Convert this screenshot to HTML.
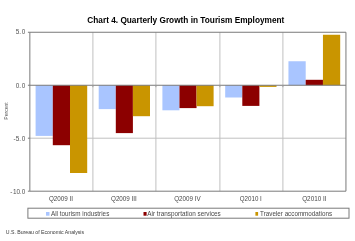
<!DOCTYPE html>
<html><head><meta charset="utf-8"><style>html,body{margin:0;padding:0;background:#fff;width:355px;height:241px;overflow:hidden}</style></head>
<body><svg width="355" height="241" viewBox="0 0 355 241" style="display:block;filter:blur(0.3px)"><rect x="0" y="0" width="355" height="241" fill="#fff"/><line x1="92.9" y1="32.25" x2="92.9" y2="191.2" stroke="#c0c0c0" stroke-width="1"/><line x1="155.9" y1="32.25" x2="155.9" y2="191.2" stroke="#c0c0c0" stroke-width="1"/><line x1="219.9" y1="32.25" x2="219.9" y2="191.2" stroke="#c0c0c0" stroke-width="1"/><line x1="282.9" y1="32.25" x2="282.9" y2="191.2" stroke="#c0c0c0" stroke-width="1"/><line x1="29.85" y1="138.2" x2="345.95" y2="138.2" stroke="#c0c0c0" stroke-width="1"/><rect x="35.60" y="85.25" width="17.20" height="50.65" fill="#A9C5FF"/><rect x="52.80" y="85.25" width="17.20" height="59.95" fill="#8C0000"/><rect x="70.00" y="85.25" width="17.20" height="87.75" fill="#C99500"/><rect x="98.70" y="85.25" width="17.10" height="23.85" fill="#A9C5FF"/><rect x="115.80" y="85.25" width="17.10" height="47.85" fill="#8C0000"/><rect x="132.90" y="85.25" width="17.10" height="30.95" fill="#C99500"/><rect x="162.40" y="85.25" width="17.07" height="25.05" fill="#A9C5FF"/><rect x="179.47" y="85.25" width="17.07" height="22.85" fill="#8C0000"/><rect x="196.54" y="85.25" width="17.07" height="20.95" fill="#C99500"/><rect x="225.20" y="85.25" width="17.10" height="12.25" fill="#A9C5FF"/><rect x="242.30" y="85.25" width="17.10" height="20.65" fill="#8C0000"/><rect x="259.40" y="85.25" width="17.10" height="1.65" fill="#C99500"/><rect x="288.45" y="61.25" width="17.25" height="24.00" fill="#A9C5FF"/><rect x="305.70" y="79.80" width="17.25" height="5.45" fill="#8C0000"/><rect x="322.95" y="34.76" width="17.25" height="50.49" fill="#C99500"/><path d="M29.85 32.25H345.95V191.2H29.85Z" fill="none" stroke="#7a7a7a" stroke-width="1"/><line x1="29.85" y1="85.25" x2="345.95" y2="85.25" stroke="#7a7a7a" stroke-width="1"/><line x1="27.9" y1="32.25" x2="29.85" y2="32.25" stroke="#7a7a7a" stroke-width="1"/><line x1="27.9" y1="85.25" x2="29.85" y2="85.25" stroke="#7a7a7a" stroke-width="1"/><line x1="27.9" y1="138.2" x2="29.85" y2="138.2" stroke="#7a7a7a" stroke-width="1"/><line x1="27.9" y1="191.2" x2="29.85" y2="191.2" stroke="#7a7a7a" stroke-width="1"/><line x1="92.9" y1="85.25" x2="92.9" y2="87.2" stroke="#a0a0a0" stroke-width="1"/><line x1="155.9" y1="85.25" x2="155.9" y2="87.2" stroke="#a0a0a0" stroke-width="1"/><line x1="219.9" y1="85.25" x2="219.9" y2="87.2" stroke="#a0a0a0" stroke-width="1"/><line x1="282.9" y1="85.25" x2="282.9" y2="87.2" stroke="#a0a0a0" stroke-width="1"/><text x="87.3" y="22.6" font-family="'Liberation Sans', sans-serif" font-weight="bold" font-size="8.8" fill="#000" textLength="197" lengthAdjust="spacingAndGlyphs">Chart 4. Quarterly Growth in Tourism Employment</text><text x="15.63 19.25 21.83" y="34.1" font-family="'Liberation Sans', sans-serif" font-size="6.4" fill="#505050">5.0</text><text x="15.63 19.25 21.83" y="87.6" font-family="'Liberation Sans', sans-serif" font-size="6.4" fill="#505050">0.0</text><text x="13.62 15.63 19.25 21.83" y="141.3" font-family="'Liberation Sans', sans-serif" font-size="6.4" fill="#505050">-5.0</text><text x="10.22 13.10 16.43 19.25 21.83" y="193.5" font-family="'Liberation Sans', sans-serif" font-size="6.4" fill="#505050">-10.0</text><text transform="translate(8.3,111) rotate(-90)" font-family="'Liberation Sans', sans-serif" font-size="5" fill="#555" text-anchor="middle" textLength="17.4" lengthAdjust="spacingAndGlyphs">Percent</text><text x="60.97" y="200.5" font-family="'Liberation Sans', sans-serif" font-size="6.3" fill="#484848" text-anchor="middle" textLength="24.1" lengthAdjust="spacingAndGlyphs">Q2009 II</text><text x="123.90" y="200.5" font-family="'Liberation Sans', sans-serif" font-size="6.3" fill="#484848" text-anchor="middle" textLength="25.8" lengthAdjust="spacingAndGlyphs">Q2009 III</text><text x="187.45" y="200.5" font-family="'Liberation Sans', sans-serif" font-size="6.3" fill="#484848" text-anchor="middle" textLength="26.5" lengthAdjust="spacingAndGlyphs">Q2009 IV</text><text x="250.80" y="200.5" font-family="'Liberation Sans', sans-serif" font-size="6.3" fill="#484848" text-anchor="middle" textLength="22.0" lengthAdjust="spacingAndGlyphs">Q2010 I</text><text x="314.35" y="200.5" font-family="'Liberation Sans', sans-serif" font-size="6.3" fill="#484848" text-anchor="middle" textLength="24.3" lengthAdjust="spacingAndGlyphs">Q2010 II</text><rect x="27.9" y="208.2" width="321.1" height="10" fill="none" stroke="#7a7a7a" stroke-width="1"/><rect x="46.0" y="212" width="3.5" height="3.7" fill="#A9C5FF"/><text x="51" y="215.7" font-family="'Liberation Sans', sans-serif" font-size="6.3" fill="#484848" textLength="58.3" lengthAdjust="spacingAndGlyphs">All tourism industries</text><rect x="143.5" y="212" width="3.1" height="3.7" fill="#8C0000"/><text x="147.3" y="215.7" font-family="'Liberation Sans', sans-serif" font-size="6.3" fill="#484848" textLength="73.5" lengthAdjust="spacingAndGlyphs">Air transportation services</text><rect x="255.4" y="212" width="2.7" height="3.7" fill="#C99500"/><text x="260.1" y="215.7" font-family="'Liberation Sans', sans-serif" font-size="6.3" fill="#484848" textLength="72" lengthAdjust="spacingAndGlyphs">Traveler accommodations</text><text x="5.8" y="234" font-family="'Liberation Sans', sans-serif" font-size="5.2" fill="#3a3a3a" textLength="78.2" lengthAdjust="spacing" letter-spacing="0">U.S. Bureau of Economic Analysis</text></svg></body></html>
